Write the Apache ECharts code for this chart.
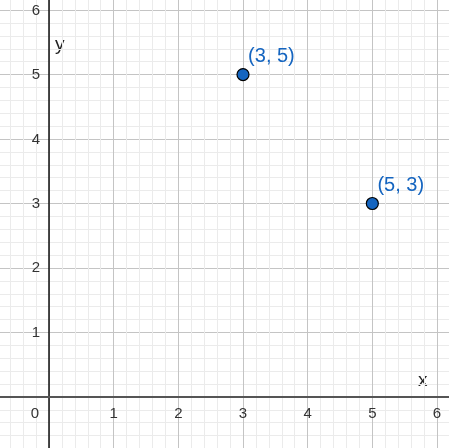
<!DOCTYPE html>
<html>
<head>
<meta charset="utf-8">
<script src="https://cdn.jsdelivr.net/npm/echarts@6/dist/echarts.min.js"></script>
<style>
html,body{margin:0;padding:0;background:#fff;}
#c{width:449px;height:448px;}
</style>
</head>
<body>
<div id="c"></div>
<script>
// Data
var pointsX = [3, 5];
var pointsY = [5, 3];
var pointLabels = ['(3, 5)', '(5, 3)'];
var xMin = -1, xMax = 7;
var yMin = -1, yMax = 7;
var xTickMin = 0, xTickMax = 6;
var yTickMin = 0, yTickMax = 6;

var FONT = '"Liberation Sans", Arial, sans-serif';
var chart = echarts.init(document.getElementById('c'), null, {renderer: 'canvas'});

var data = pointsX.map(function (x, i) { return [x, pointsY[i], pointLabels[i]]; });

chart.setOption({
  animation: false,
  backgroundColor: '#ffffff',
  grid: [
    { left: -15.67, right: -52.67, top: -54.4, bottom: -13.4, containLabel: false, outerBoundsMode: 'none' },
    { left: 49, right: 12, top: 10.6, bottom: 51, containLabel: false, outerBoundsMode: 'none' }
  ],
  xAxis: [{
    gridIndex: 0, type: 'value', min: xMin, max: xMax, interval: 1,
    axisLine: { show: true, onZero: true, lineStyle: { color: '#555555', width: 2 } },
    axisTick: { show: false },
    axisLabel: { show: false },
    splitLine: { show: true, lineStyle: { color: '#c4c4c4', width: 1 } },
    minorTick: { show: false, splitNumber: 5 },
    minorSplitLine: { show: true, lineStyle: { color: '#ebebeb', width: 1 } }
  }, {
    gridIndex: 1, type: 'value', min: xTickMin, max: xTickMax, interval: 1,
    axisLine: { show: false, onZero: false },
    axisTick: { show: false },
    splitLine: { show: false },
    axisLabel: {
      margin: 9, fontSize: 15, color: '#333333', fontFamily: FONT,
      showMinLabel: true, showMaxLabel: true,
      formatter: function (v) { return v === 0 ? '{z|0}' : String(v); },
      rich: { z: { fontSize: 15, color: '#333333', fontFamily: FONT, padding: [0, 28, 0, 0] } }
    }
  }],
  yAxis: [{
    gridIndex: 0, type: 'value', min: yMin, max: yMax, interval: 1,
    axisLine: { show: true, onZero: true, lineStyle: { color: '#111111', width: 1.5 } },
    axisTick: { show: false },
    axisLabel: { show: false },
    splitLine: { show: true, lineStyle: { color: '#c4c4c4', width: 1 } },
    minorTick: { show: false, splitNumber: 5 },
    minorSplitLine: { show: true, lineStyle: { color: '#ebebeb', width: 1 } }
  }, {
    gridIndex: 1, type: 'value', min: yTickMin, max: yTickMax, interval: 1,
    axisLine: { show: false, onZero: false },
    axisTick: { show: false },
    splitLine: { show: false },
    axisLabel: {
      margin: 9, fontSize: 15, color: '#333333', fontFamily: FONT,
      showMinLabel: true, showMaxLabel: true,
      formatter: function (v) { return v === 0 ? '' : String(v); }
    }
  }],
  graphic: [
    { type: 'text', left: 418, top: 371, style: { text: 'x', fill: '#222222', fontSize: 19, fontFamily: FONT } },
    { type: 'text', left: 55, top: 35, style: { text: 'y', fill: '#222222', fontSize: 19, fontFamily: FONT } }
  ],
  series: [{
    type: 'scatter',
    xAxisIndex: 0, yAxisIndex: 0,
    data: data,
    symbol: 'circle',
    symbolSize: 12,
    itemStyle: { color: '#1565c0', borderColor: '#000000', borderWidth: 1.2, opacity: 1 },
    label: {
      show: true, position: 'right', distance: 0, offset: [-1.5, -18],
      formatter: function (p) { return p.data[2]; },
      color: '#1565c0', fontSize: 20, fontFamily: FONT
    },
    z: 10
  }]
});
</script>
</body>
</html>
